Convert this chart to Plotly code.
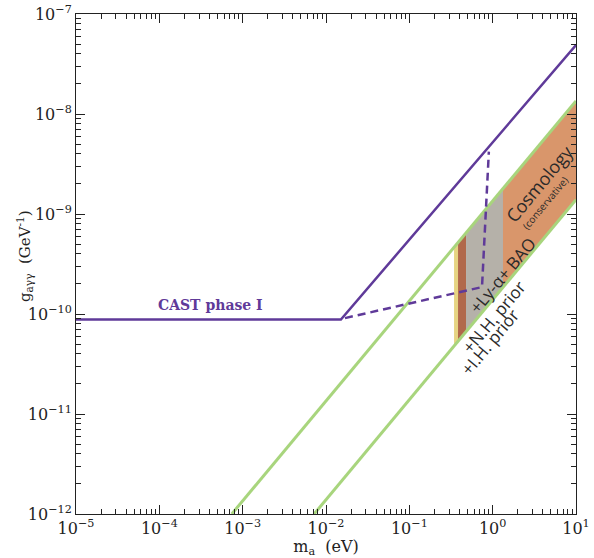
import plotly.graph_objects as go

# --- data ---
cast_m = [1e-5, 0.0151, 10]
cast_g = [8.8e-11, 8.8e-11, 4.9e-8]

dash_m = [0.0169, 0.745, 0.90]
dash_g = [9.1e-11, 1.86e-10, 4.2e-9]

green_up_m = [7.4e-4, 10]
green_up_g = [1e-12, 1.35e-8]
green_lo_m = [7.2e-3, 10]
green_lo_g = [1e-12, 1.39e-9]

# region boundaries (mass) and band edges there
bound_m = [0.344, 0.384, 0.479, 1.33, 10]
bound_up = [4.65e-10, 5.19e-10, 6.47e-10, 1.80e-9, 1.35e-8]
bound_lo = [4.78e-11, 5.33e-11, 6.65e-11, 1.85e-10, 1.39e-9]
region_colors = ["#e6d483", "#b1694b", "#b5b1a9", "#d9966b"]

x_ticks = [1e-5, 1e-4, 1e-3, 1e-2, 1e-1, 1e0, 1e1]
x_ticktext = ["10<sup>−5</sup>", "10<sup>−4</sup>", "10<sup>−3</sup>", "10<sup>−2</sup>",
              "10<sup>−1</sup>", "10<sup>0</sup>", "10<sup>1</sup>"]
y_ticks = [1e-12, 1e-11, 1e-10, 1e-9, 1e-8, 1e-7]
y_ticktext = ["10<sup>−12</sup>", "10<sup>−11</sup>", "10<sup>−10</sup>",
              "10<sup>−9</sup>", "10<sup>−8</sup>", "10<sup>−7</sup>"]

purple = "#5f3a99"
green = "#a8d57d"

fig = go.Figure()

for i, c in enumerate(region_colors):
    xs = [bound_m[i], bound_m[i + 1], bound_m[i + 1], bound_m[i], bound_m[i]]
    ys = [bound_lo[i], bound_lo[i + 1], bound_up[i + 1], bound_up[i], bound_lo[i]]
    fig.add_trace(go.Scatter(x=xs, y=ys, mode="lines", fill="toself", fillcolor=c,
                             line=dict(width=0, color=c), hoverinfo="skip"))

fig.add_trace(go.Scatter(x=green_up_m, y=green_up_g, mode="lines",
                         line=dict(color=green, width=3)))
fig.add_trace(go.Scatter(x=green_lo_m, y=green_lo_g, mode="lines",
                         line=dict(color=green, width=3)))
fig.add_trace(go.Scatter(x=cast_m, y=cast_g, mode="lines",
                         line=dict(color=purple, width=2.5)))
fig.add_trace(go.Scatter(x=dash_m, y=dash_g, mode="lines",
                         line=dict(color=purple, width=2.5, dash="8px,5px")))

serif = "DejaVu Serif"
sans = "Open Sans"
ang = -50.2

def ann(x, y, text, size, color="#2a2a2a", angle=ang, family=sans):
    fig.add_annotation(x=x, y=y, xref="x", yref="y", text=text, showarrow=False,
                       textangle=angle, font=dict(family=family, size=size, color=color))

ann(-3.392, -9.91, "<b>CAST phase I</b>", 14, color=purple, angle=0, family=serif)
ann(0.556, -8.70, "Cosmology", 18)
ann(0.628, -8.89, "(conservative)", 10)
ann(0.112, -9.61, "+Ly-α+ BAO", 17)
ann(0.004, -10.03, "+N.H. prior", 17)
ann(-0.044, -10.28, "+I.H. prior", 17)

# y-axis title placed as an annotation (it sits close to the tick labels)
fig.add_annotation(x=-0.104, y=0.516, xref="paper", yref="paper",
                   xanchor="center", yanchor="middle",
                   text="g<sub>aγγ</sub>  (GeV<sup>-1</sup>)", showarrow=False, textangle=-90,
                   font=dict(family=serif, size=15, color="#222"))

minor_x = [k * 10.0 ** e for e in range(-5, 1) for k in range(2, 10)]
minor_y = [k * 10.0 ** e for e in range(-12, -7) for k in range(2, 10)]

axis_common = dict(type="log", showgrid=False, zeroline=False, showline=True,
                   linecolor="#222", linewidth=1, mirror="ticks", ticks="inside",
                   ticklen=9, tickcolor="#222", automargin=False, ticklabeloverflow="allow",
                   tickfont=dict(family=serif, size=16, color="#222"))

fig.update_xaxes(**axis_common, range=[-5, 1], tickvals=x_ticks, ticktext=x_ticktext,
                 minor=dict(tickvals=minor_x, ticks="inside", ticklen=5, tickcolor="#222"),
                 title=dict(text="m<sub>a</sub>  (eV)", font=dict(family=serif, size=16, color="#222"),
                            standoff=2))
fig.update_yaxes(**axis_common, range=[-12, -7], tickvals=y_ticks, ticktext=y_ticktext,
                 minor=dict(tickvals=minor_y, ticks="inside", ticklen=5, tickcolor="#222"))

fig.update_layout(width=594, height=558, showlegend=False,
                  margin=dict(l=76, r=18, t=14, b=44),
                  plot_bgcolor="white", paper_bgcolor="white")

# remove the default 8px page margin so the figure fills the window exactly
fig.write_html("out.html", config={"displayModeBar": False},
               post_script="document.body.style.margin='0';")
